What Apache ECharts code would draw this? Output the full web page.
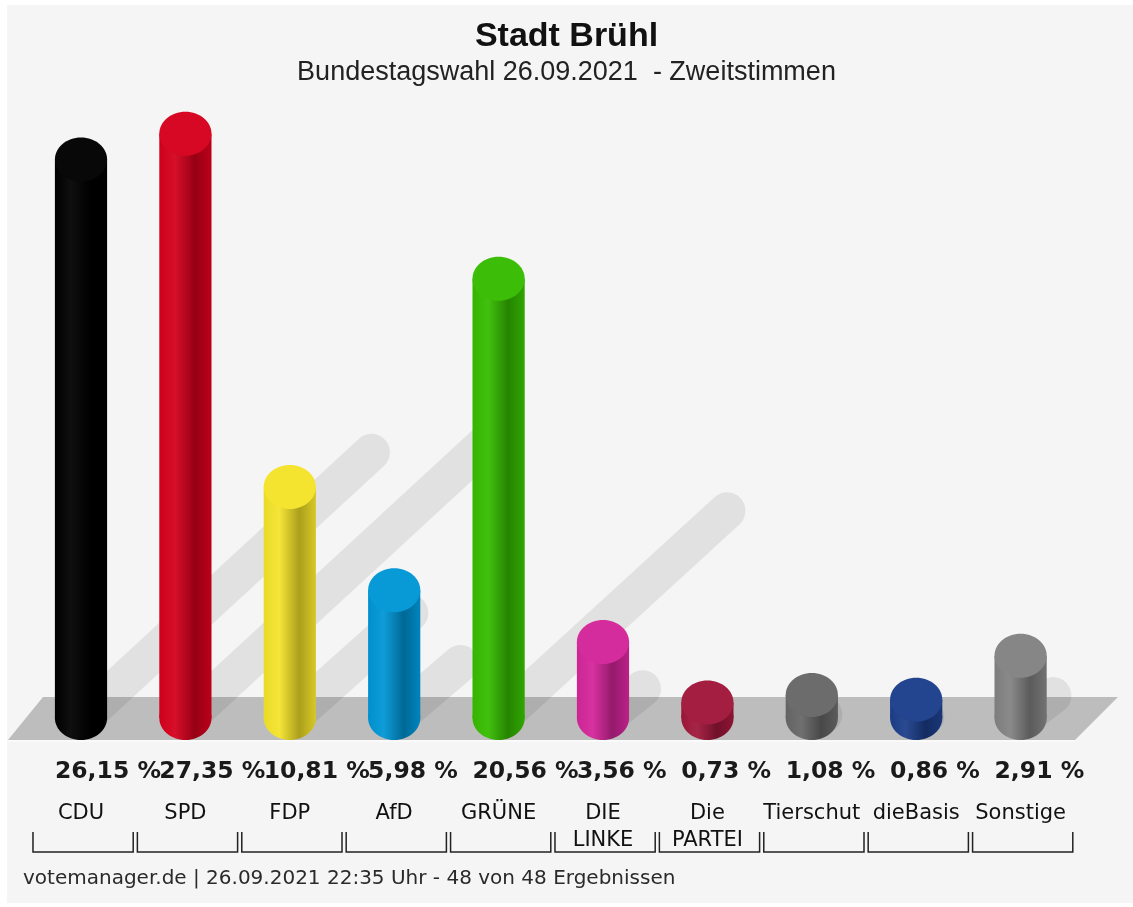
<!DOCTYPE html>
<html lang="de">
<head>
<meta charset="UTF-8" />
<title>Stadt Brühl</title>
<script src="https://cdn.jsdelivr.net/npm/echarts@6/dist/echarts.min.js"></script>
<style>
html,body{margin:0;padding:0;background:#fff;}
#main{width:1133px;height:907px;}
</style>
</head>
<body>
<div id="main"></div>
<script type="text/javascript">
// Parteien (Achsenbeschriftung)
var parteien = ['CDU', 'SPD', 'FDP', 'AfD', 'GRÜNE', 'DIE\nLINKE', 'Die\nPARTEI', 'Tierschut', 'dieBasis', 'Sonstige'];
// Zweitstimmenanteile in %
var anteile = [26.15, 27.35, 10.81, 5.98, 20.56, 3.56, 0.73, 1.08, 0.86, 2.91];
// Parteifarben
var farben = ['#000000', '#d6001c', '#f4e32a', '#0096d6', '#36bc00', '#d4259a', '#a0173a', '#676767', '#1c3e8a', '#828282'];

var titel = 'Stadt Brühl';
var untertitel = 'Bundestagswahl 26.09.2021  - Zweitstimmen';
var fusszeile = 'votemanager.de | 26.09.2021 22:35 Uhr - 48 von 48 Ergebnissen';

function shade(hex, f){
	var n = parseInt(hex.slice(1), 16);
	var r = n >> 16, g = (n >> 8) & 255, b = n & 255;
	function m(c){ return Math.round(f < 0 ? c * (1 + f) : c + (255 - c) * f); }
	return 'rgb(' + m(r) + ',' + m(g) + ',' + m(b) + ')';
}
function prozent(v){
	return v.toFixed(2).replace('.', ',') + ' %';
}

// Schatten der Saeulen (schraeg nach rechts oben)
function schatten(params, api){
	var basis = api.coord([api.value(0), 0]);
	var kopf = api.coord([api.value(0), api.value(1)]);
	var h = basis[1] - kopf[1];
	return {
		type: 'line',
		shape: {x1: basis[0], y1: basis[1] + 2, x2: basis[0] + 0.52 * h, y2: basis[1] + 8 - 0.49 * h},
		style: {stroke: 'rgba(0,0,0,0.08)', lineWidth: 37, lineCap: 'round'}
	};
}

// Zylinder + Wert + Klammer
function zylinder(params, api){
	var i = params.dataIndex;
	var basis = api.coord([api.value(0), 0]);
	var kopf = api.coord([api.value(0), api.value(1)]);
	var band = api.size([1, 0])[0];
	var rx = band * 0.25, ry = 22;
	var col = farben[i];
	var verlauf = {
		type: 'linear', x: 0, y: 0, x2: 1, y2: 0,
		colorStops: [
			{offset: 0, color: shade(col, -0.04)},
			{offset: 0.3, color: shade(col, 0.06)},
			{offset: 0.68, color: shade(col, -0.3)},
			{offset: 1, color: shade(col, -0.12)}
		]
	};
	var l = basis[0] - band * 0.46, r = basis[0] + band * 0.5;
	return {
		type: 'group',
		children: [
			{type: 'ellipse', shape: {cx: basis[0], cy: basis[1], rx: rx, ry: ry}, style: {fill: verlauf}},
			{type: 'rect', shape: {x: basis[0] - rx, y: kopf[1], width: rx * 2, height: basis[1] - kopf[1]}, style: {fill: verlauf}},
			{type: 'ellipse', shape: {cx: kopf[0], cy: kopf[1], rx: rx, ry: ry}, style: {fill: shade(col, 0.03)}},
			{type: 'text', x: basis[0] - rx, y: basis[1] + 54,
				style: {text: prozent(anteile[i]), font: 'bold 23.5px "DejaVu Sans"', fill: '#1a1a1a', textAlign: 'left', textVerticalAlign: 'middle'}},
			{type: 'polyline', shape: {points: [[l, basis[1] + 114], [l, basis[1] + 134], [r, basis[1] + 134], [r, basis[1] + 114]]},
				style: {stroke: '#222', lineWidth: 1.5, fill: null}}
		]
	};
}

var daten = anteile.map(function(v, i){ return [i, v]; });

var myChart = echarts.init(document.getElementById('main'));
myChart.setOption({
	backgroundColor: '#ffffff',
	animation: false,
	title: [
		{text: titel, left: 'center', top: 15, textStyle: {fontFamily: 'Liberation Sans', fontWeight: 'bold', fontSize: 34, color: '#111'}},
		{text: untertitel, left: 'center', top: 54, textStyle: {fontFamily: 'Liberation Sans', fontWeight: 'normal', fontSize: 27, color: '#222'}}
	],
	graphic: [
		{type: 'rect', z: -10, shape: {x: 7, y: 5, width: 1126, height: 898}, style: {fill: '#f5f5f5'}},
		{type: 'polygon', z: -5, shape: {points: [[43, 697], [1118, 697], [1075, 740], [8, 740]]}, style: {fill: '#bdbdbd'}},
		{type: 'line', z: -5, shape: {x1: 8, y1: 741, x2: 1075, y2: 741}, style: {stroke: '#fbfbfb', lineWidth: 1.5}},
		{type: 'text', left: 23, top: 869, style: {text: fusszeile, font: '20px "DejaVu Sans"', fill: '#2a2a2a'}}
	],
	grid: {left: 28.8, right: 60.2, top: 77.2, bottom: 189},
	xAxis: {
		type: 'category',
		data: parteien,
		axisLine: {show: false},
		axisTick: {show: false},
		axisLabel: {interval: 0, margin: 82, fontFamily: 'DejaVu Sans', fontSize: 21, lineHeight: 27, color: '#111', verticalAlign: 'top'}
	},
	yAxis: {type: 'value', min: 0, max: 30, show: false},
	series: [
		{type: 'custom', z: 1, renderItem: schatten, data: daten, clip: false},
		{type: 'custom', z: 3, renderItem: zylinder, data: daten, clip: false}
	]
});
</script>
</body>
</html>
